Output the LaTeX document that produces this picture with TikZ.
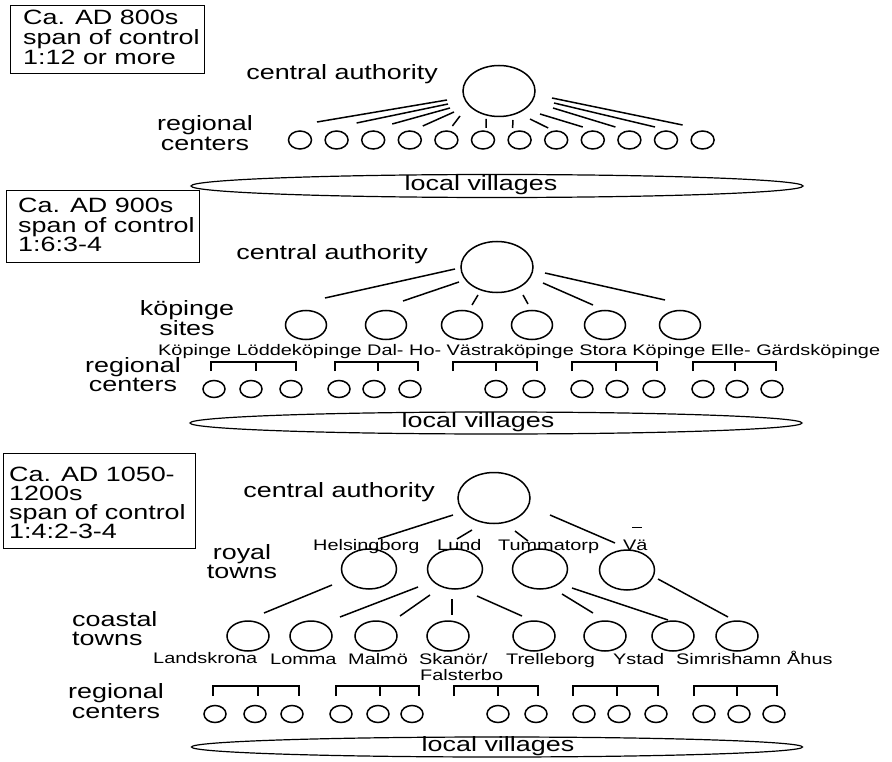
\documentclass[tikz,border=0pt]{standalone}
\usepackage{fontspec}
\setmainfont{Liberation Sans}[FakeStretch=1.3]
\usetikzlibrary{shapes.geometric}
\begin{document}
\begin{tikzpicture}[x=1pt,y=-1pt,
  lw/.style={line width=1.5pt},
  circ/.style={draw, ellipse, line width=1.5pt, inner sep=0pt},
  bigc/.style={circ, minimum width=72pt, minimum height=51pt},
  smc/.style={circ, minimum width=23pt, minimum height=18pt},
  kc/.style={circ, minimum width=41pt, minimum height=29pt},
  rc/.style={circ, minimum width=55pt, minimum height=40pt},
  cc/.style={circ, minimum width=42pt, minimum height=30pt},
  vill/.style={draw, ellipse, line width=1.2pt, inner sep=0pt},
  lbl/.style={font=\fontsize{20.7}{19.5}\selectfont, inner sep=0pt},
  nm/.style={font=\fontsize{15.3}{15.3}\selectfont, inner sep=0pt},
  boxr/.style={draw, line width=1.2pt, inner sep=0pt, anchor=north west},
  boxt/.style={inner sep=0pt, anchor=north west, align=left},
  brk/.style={line width=1.5pt}
]
\useasboundingbox (0,0) rectangle (892,762);

% ================= TOP: AD 800s =================
\node[boxr, minimum width=194pt, minimum height=68pt] (box1) at (10,5) {};
\node[boxt, font=\fontsize{20.7}{20}\selectfont] (t1) at (23,10) {Ca. AD 800s\\span of control\\1:12 or more};
\node[lbl, anchor=base east] (ca1) at (438,80) {central authority};
\node[bigc] (C1) at (499,91) {};
\foreach \i in {1,...,12}
  \node[smc] (r\i) at ({300+36.6*(\i-1)},140) {};
\node[lbl, align=center] (rl1) at (205,133) {regional\\centers};
\foreach \i/\sx/\sy/\ex/\ey in {1/-52/9/17/-18, 2/-51/13/20/-17, 3/-49/17/19/-16,
   4/-45/21/13/-14, 5/-39/25/6/-14, 6/-13/28/3/-12, 7/14/29/-7/-12, 8/31/28/-8/-12,
   9/41/23/-10/-13, 10/54/17/-14/-13, 11/55/12/-11/-13, 12/53/7/-20/-15}
  \draw[lw] ([shift={(\sx,\sy)}]C1.center) -- ([shift={(\ex,\ey)}]r\i.center);
\node[vill, minimum width=612pt, minimum height=23pt] (v1) at (497,186) {};
\node[lbl] (vt1) at (481,185) {local villages};

% ================= MIDDLE: AD 900s =================
\node[boxr, minimum width=193pt, minimum height=72pt] (box2) at (6,190) {};
\node[boxt, font=\fontsize{20.7}{19.5}\selectfont] (t2) at (18,198) {Ca. AD 900s\\span of control\\1:6:3-4};
\node[lbl, anchor=base east] (ca2) at (428,260) {central authority};
\node[bigc] (C2) at (497,267) {};
\foreach \i/\x in {1/306,2/386,3/462,4/532,5/605,6/680}
  \node[kc] (k\i) at (\x,325) {};
\node[lbl, align=center] (kl) at (187,318) {köpinge\\sites};
\foreach \i/\sx/\sy/\ex/\ey in {1/-42/2/19/-27, 2/-38/15/17/-24, 3/-19/28/10/-20,
   4/26/28/-4/-21, 5/46/16/-12/-20, 6/48/6/-15/-25}
  \draw[lw] ([shift={(\sx,\sy)}]C2.center) -- ([shift={(\ex,\ey)}]k\i.center);
\node[nm, anchor=base west] (knames) at (158,355)
  {Köpinge Löddeköpinge Dal- Ho- Västraköpinge Stora Köpinge Elle- Gärdsköpinge};
\node[lbl, align=center] (rl2) at (133,374.5) {regional\\centers};
\foreach \a/\m/\b in {211/256/296, 335/378/418, 453/496/537, 572/616/657, 693/735/776}{
  \draw[brk] (\a,371) |- (\b,362) -- (\b,371);
  \draw[brk] (\m,362) -- (\m,371);
}
\foreach \i/\x in {1/214,2/251,3/291,4/339,5/374,6/410,7/496,8/534,9/582,10/617,11/654,12/703,13/737,14/772}
  \node[smc, minimum width=22pt, minimum height=17pt] (m\i) at (\x,389) {};
\node[vill, minimum width=612pt, minimum height=22pt] (v2) at (496,423) {};
\node[lbl] (vt2) at (478,422) {local villages};

% ================= BOTTOM: AD 1050-1200s =================
\node[boxr, minimum width=192pt, minimum height=95pt] (box3) at (3,453) {};
\node[boxt, font=\fontsize{20.7}{19}\selectfont] (t3) at (9,467) {Ca. AD 1050-\\1200s\\span of control\\1:4:2-3-4};
\node[lbl, anchor=base east] (ca3) at (435,497) {central authority};
\node[bigc] (C3) at (494,498) {};
\node[rc] (R1) at (369,569) {};
\node[rc] (R2) at (455,569) {};
\node[rc] (R3) at (540,569) {};
\node[rc] (R4) at (627,570) {};
\node[lbl, align=center] (royl) at (242,561.5) {royal\\towns};
\node[nm, anchor=base west] (nR1) at (313,550) {Helsingborg};
\node[nm, anchor=base west] (nR2) at (437,550) {Lund};
\node[nm, anchor=base west] (nR3) at (498,550) {Tummatorp};
\node[nm, anchor=base west] (nR4) at (623,550) {Vä};
\draw[line width=1pt] (632,527) -- (642,527);
\foreach \i/\sx/\sy/\ex/\ey in {1/-41/17/9/-30, 2/-22/32/2/-30, 3/21/33/-12/-28, 4/56/17/-12/-27}
  \draw[lw] ([shift={(\sx,\sy)}]C3.center) -- ([shift={(\ex,\ey)}]R\i.center);
\foreach \i/\x in {1/248,2/311,3/376,4/448,5/534,6/605,7/673,8/737}
  \node[cc] (L\i) at (\x,636) {};
\node[lbl, align=left, anchor=west] (coastl) at (72,628.5) {coastal\\towns};
\foreach \r/\l/\sx/\sy/\ex/\ey in {R1/L1/-37/16/16/-23, R2/L2/-37/18/29/-19, R2/L3/-25/26/24/-20,
   R2/L4/-3/30/4/-21, R2/L5/22/27/-12/-20, R3/L6/22/25/-12/-23, R3/L7/32/19/-5/-16, R4/L8/31/9/-9/-19}
  \draw[lw] ([shift={(\sx,\sy)}]\r.center) -- ([shift={(\ex,\ey)}]\l.center);
\node[nm, anchor=base west] (nL1) at (153,663) {Landskrona};
\node[nm, anchor=base west] (nL2) at (270,664) {Lomma};
\node[nm, anchor=base west] (nL3) at (348,664) {Malmö};
\node[nm, anchor=base west] (nL4) at (419,664) {Skanör/};
\node[nm, anchor=base west] (nL4b) at (420,680) {Falsterbo};
\node[nm, anchor=base west] (nL5) at (506,664) {Trelleborg};
\node[nm, anchor=base west] (nL6) at (613,664) {Ystad};
\node[nm, anchor=base west] (nL7) at (676,664) {Simrishamn};
\node[nm, anchor=base west] (nL8) at (787,664) {Åhus};
\node[lbl, align=center] (rl3) at (116,701) {regional\\centers};
\foreach \a/\m/\b in {213/258/299, 336/380/419, 454/498/538, 573/617/658, 694/737/777}{
  \draw[brk] (\a,696) |- (\b,686) -- (\b,696);
  \draw[brk] (\m,686) -- (\m,696);
}
\foreach \i/\x in {1/215,2/255,3/292,4/341,5/378,6/412,7/498,8/536,9/584,10/619,11/656,12/704,13/739,14/774}
  \node[smc, minimum width=22pt, minimum height=17pt] (b\i) at (\x,714) {};
\node[vill, minimum width=611pt, minimum height=20pt] (v3) at (497,747) {};
\node[lbl] (vt3) at (498,746) {local villages};
\end{tikzpicture}
\end{document}
